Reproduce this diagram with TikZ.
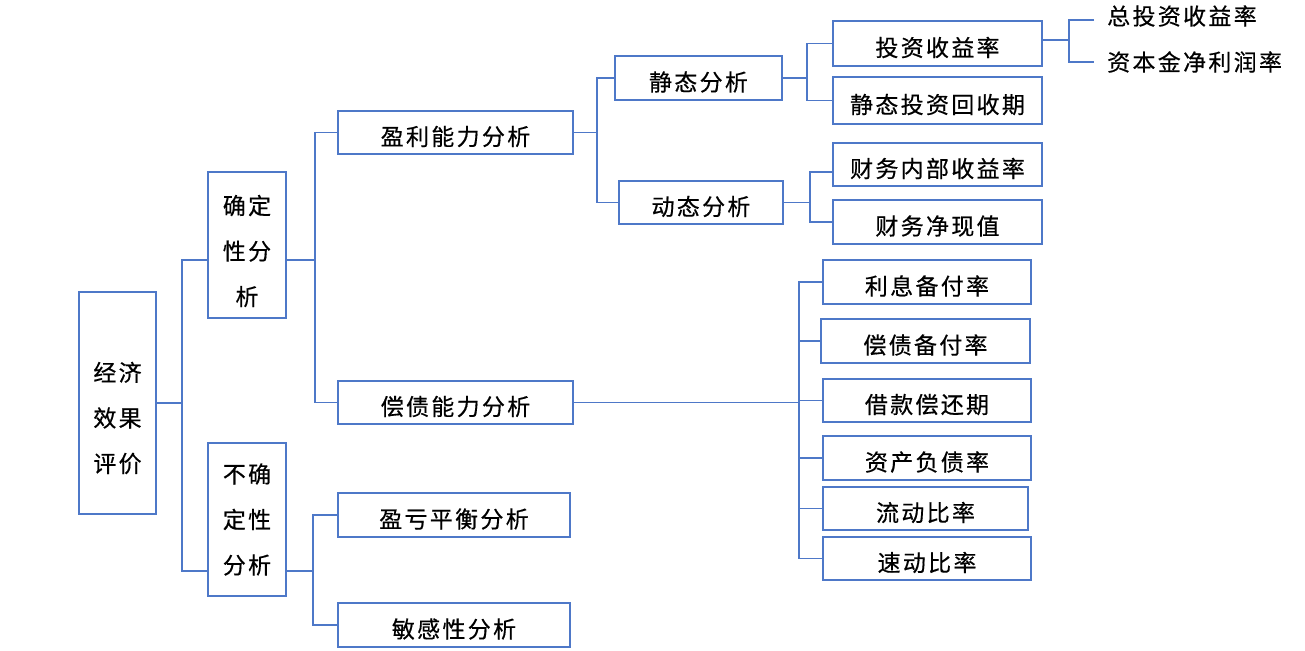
\documentclass[tikz,border=0pt]{standalone}
\usepackage{fontspec}
\newfontfamily\cjk[LetterSpace=10, FakeBold=0.5]{Noto Sans CJK SC}
\definecolor{lineblue}{RGB}{78,120,200}
\newcommand\dn[1]{\raisebox{-4pt}[\height][\depth]{#1}}
\tikzset{
  box/.style={draw=lineblue, line width=1.4pt, inner sep=0pt, align=center,
    font=\cjk\fontsize{23}{45.5}\selectfont},
  lbl/.style={inner sep=0pt, font=\cjk\fontsize{23}{45.5}\selectfont},
  conn/.style={draw=lineblue, line width=1.4pt},
}
\begin{document}
\begin{tikzpicture}[x=1pt,y=-1pt]
\useasboundingbox (0,0) rectangle (1305,650);
% level 0
\node[box, minimum width=77, minimum height=222] (econ) at (117.5,403) {};
\node[lbl, align=center] (econT) at (117.5,418) {经济\\效果\\评价};
% level 1
\node[box, minimum width=78, minimum height=146] (det) at (247,245) {};
\node[lbl, align=center] (detT) at (247,251) {确定\\性分\\析};
\node[box, minimum width=78, minimum height=153] (undet) at (247,519.5) {不确\\定性\\分析};
% level 2
\node[box, minimum width=235, minimum height=43] (yl) at (455.5,132.5) {\dn{盈利能力分析}};
\node[box, minimum width=235, minimum height=43] (cz) at (455.5,402.5) {\dn{偿债能力分析}};
\node[box, minimum width=232, minimum height=44] (yk) at (454,515) {\dn{盈亏平衡分析}};
\node[box, minimum width=232, minimum height=44] (mg) at (454,625) {\dn{敏感性分析}};
% level 3
\node[box, minimum width=167, minimum height=44] (jt) at (698.5,78) {\dn{静态分析}};
\node[box, minimum width=164, minimum height=43] (dt) at (701,202.5) {\dn{动态分析}};
% level 4
\node[box, minimum width=209, minimum height=45] (tzsy) at (937.5,43.5) {\dn{投资收益率}};
\node[box, minimum width=209, minimum height=47] (jthsq) at (937.5,100.5) {\dn{静态投资回收期}};
\node[box, minimum width=209, minimum height=43] (cwnb) at (937.5,164.5) {\dn{财务内部收益率}};
\node[box, minimum width=209, minimum height=44] (cwjxz) at (937.5,222) {\dn{财务净现值}};
\node[box, minimum width=208, minimum height=44] (r1) at (927,282) {\dn{利息备付率}};
\node[box, minimum width=209, minimum height=44] (r2) at (925.5,341) {\dn{偿债备付率}};
\node[box, minimum width=208, minimum height=43] (r3) at (927,400.5) {\dn{借款偿还期}};
\node[box, minimum width=208, minimum height=44] (r4) at (927,458) {\dn{资产负债率}};
\node[box, minimum width=205, minimum height=43] (r5) at (925.5,508.5) {\dn{流动比率}};
\node[box, minimum width=208, minimum height=43] (r6) at (927,558.5) {\dn{速动比率}};
% level 5 labels
\node[lbl, anchor=west] (ztz) at (1107,16) {总投资收益率};
\node[lbl, anchor=west] (zbj) at (1107,62) {资本金净利润率};
% junction coordinates
\coordinate (b1) at (182,403);
\coordinate (b2) at (315,260);
\coordinate (b3) at (313,571);
\coordinate (b4) at (597,132.5);
\coordinate (b5) at (807,78);
\coordinate (b6) at (810,202.5);
\coordinate (b7) at (1069,40);
\coordinate (b8) at (799,402.5);
\coordinate (e1) at (1094,20);
\coordinate (e2) at (1094,62);
% connectors
\draw[conn] (econ.east) -- (b1);
\draw[conn] ([yshift=-15pt]det.west) -| (b1) |- ([yshift=-51.5pt]undet.west);
\draw[conn] ([yshift=-15pt]det.east) -- (b2);
\draw[conn] (yl.west) -| (b2) |- (cz.west);
\draw[conn] ([yshift=-51.5pt]undet.east) -- (b3);
\draw[conn] (yk.west) -| (b3) |- (mg.west);
\draw[conn] (yl.east) -- (b4);
\draw[conn] (jt.west) -| (b4) |- (dt.west);
\draw[conn] (jt.east) -- (b5);
\draw[conn] (tzsy.west) -| (b5) |- (jthsq.west);
\draw[conn] (dt.east) -- (b6);
\draw[conn] ([yshift=-7.5pt]cwnb.west) -| (b6) |- (cwjxz.west);
\draw[conn] ([yshift=3.5pt]tzsy.east) -- (b7);
\draw[conn] (e1) -| (b7) |- (e2);
\draw[conn] (cz.east) -- (b8);
\draw[conn] (r1.west) -| (b8) |- (r6.west);
\draw[conn] (r2.west) -- (r2.west -| b8);
\draw[conn] (r3.west) -- (r3.west -| b8);
\draw[conn] (r4.west) -- (r4.west -| b8);
\draw[conn] (r5.west) -- (r5.west -| b8);
\end{tikzpicture}
\end{document}
